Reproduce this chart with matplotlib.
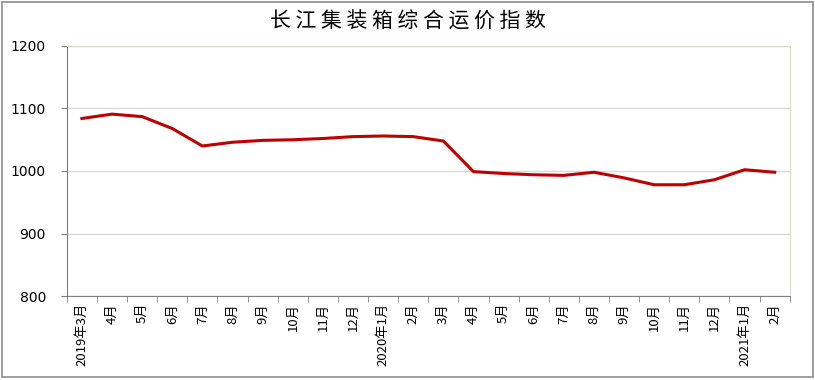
import matplotlib.pyplot as plt
from matplotlib.patches import Rectangle

plt.rcParams['font.family'] = ['Noto Sans CJK SC', 'DejaVu Sans']

# 月份标签与指数值
months = ['2019年3月', '4月', '5月', '6月', '7月', '8月', '9月', '10月', '11月', '12月',
          '2020年1月', '2月', '3月', '4月', '5月', '6月', '7月', '8月', '9月', '10月',
          '11月', '12月', '2021年1月', '2月']
index_values = [1084, 1091, 1087, 1068, 1040, 1046, 1049, 1050, 1052, 1055,
                1056, 1055, 1048, 999, 996, 994, 993, 998, 989, 978,
                978, 986, 1002, 998]
y_ticks = [800, 900, 1000, 1100, 1200]
title = '长江集装箱综合运价指数'

fig = plt.figure(figsize=(8.15, 3.8), dpi=100)
ax = fig.add_axes([0.082, 0.221, 0.887, 0.658])

x = list(range(len(months)))
ax.plot(x, index_values, color='#c00000', linewidth=2.2, solid_joinstyle='round')

ax.set_ylim(800, 1200)
ax.set_yticks(y_ticks)
ax.set_yticklabels([str(v) for v in y_ticks], family='DejaVu Sans', fontsize=10)
ax.set_xlim(-0.5, len(months) - 0.5)
ax.set_xticks(x)
ax.set_xticklabels(months, rotation=90, fontsize=9.5)
ax.set_xticks([i - 0.5 for i in range(len(months) + 1)], minor=True)
ax.tick_params(axis='x', which='major', length=0, pad=5)
ax.tick_params(axis='x', which='minor', length=4, color='#808080')
ax.tick_params(axis='y', length=4, color='#808080', pad=11)

ax.grid(axis='y', color='#d9d9d9', linewidth=1)
ax.set_axisbelow(True)
ax.spines['top'].set_color('#ddd9c3')
ax.spines['right'].set_color('#ddd9c3')
ax.spines['left'].set_color('#808080')
ax.spines['bottom'].set_color('#808080')

fig.text(0.5, 0.942, ' '.join(title), ha='center', va='center', fontsize=15)

# 外边框
fig.patches.append(Rectangle((0.002, 0.008), 0.995, 0.988, transform=fig.transFigure,
                             fill=False, edgecolor='#8c8c8c', linewidth=1.2))

fig.savefig('out.png', dpi=100)
